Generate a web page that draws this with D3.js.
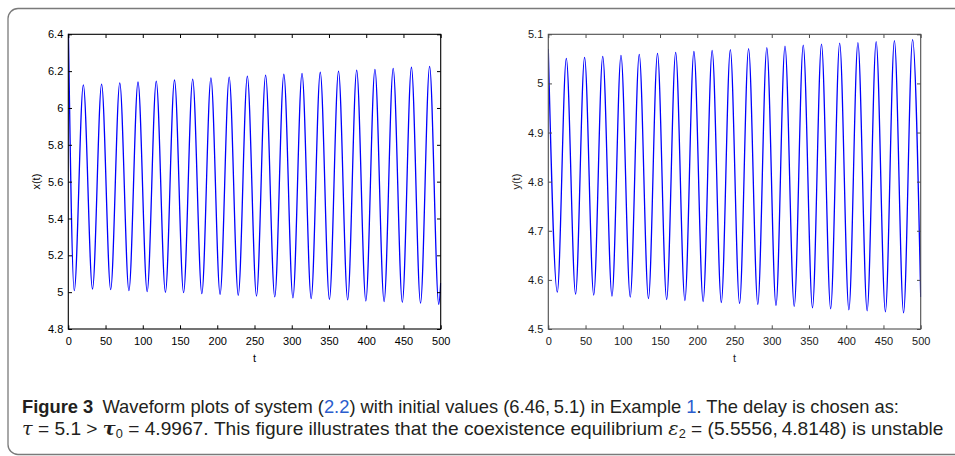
<!DOCTYPE html>
<html>
<head>
<meta charset="utf-8">
<script src="https://cdn.jsdelivr.net/npm/d3@7"></script>
<style>
  body { margin: 0; background: #fff; }
  svg { display: block; }
  .tick text { font-family: "Liberation Sans", Arial, sans-serif; font-size: 11px; fill: #000; }
  .cap { font-family: "Liberation Sans", Arial, sans-serif; font-size: 18px; fill: #231f20; }
</style>
</head>
<body>
<div id="chart"></div>
<script>
// axis ticks
var tTicks = [0, 50, 100, 150, 200, 250, 300, 350, 400, 450, 500]
var xTicks = [4.8, 5, 5.2, 5.4, 5.6, 5.8, 6, 6.2, 6.4]
var yTicks = [4.5, 4.6, 4.7, 4.8, 4.9, 5, 5.1]

// x(t): start / end and extrema
var xStart = [0, 6.46]
var xEnd = [500, 5.05]
var xPeakT = [20.2, 44.7, 69.1, 93.6, 118.1, 142.6, 167.0, 191.5, 216.0, 240.4, 264.9, 289.4, 313.8, 338.3, 362.8, 387.2, 411.7, 436.2, 460.7, 485.1]
var xPeakV = [6.125, 6.13, 6.136, 6.141, 6.146, 6.152, 6.157, 6.163, 6.168, 6.173, 6.178, 6.183, 6.188, 6.194, 6.2, 6.205, 6.21, 6.215, 6.221, 6.226]
var xTroughT = [8.0, 32.5, 56.9, 81.4, 105.9, 130.4, 154.8, 179.3, 203.8, 228.2, 252.7, 277.2, 301.6, 326.1, 350.6, 375.1, 399.5, 424.0, 448.5, 472.9, 497.4]
var xTroughV = [5.008, 5.017, 5.014, 5.008, 5.003, 4.999, 4.997, 4.992, 4.988, 4.983, 4.979, 4.974, 4.969, 4.965, 4.961, 4.958, 4.952, 4.949, 4.945, 4.94, 4.934]

// y(t)
var yStart = [0, 5.07]
var yEnd = [500, 4.565]
var yPeakT = [24.2, 48.7, 73.1, 97.6, 122.1, 146.6, 171.0, 195.5, 220.0, 244.4, 268.9, 293.4, 317.8, 342.3, 366.8, 391.2, 415.7, 440.2, 464.7, 489.1]
var yPeakV = [5.051, 5.053, 5.055, 5.057, 5.059, 5.061, 5.063, 5.065, 5.067, 5.069, 5.071, 5.073, 5.076, 5.078, 5.08, 5.082, 5.083, 5.085, 5.087, 5.089]
var yTroughT = [12.1, 36.6, 61.0, 85.5, 110.0, 134.5, 158.9, 183.4, 207.9, 232.3, 256.8, 281.3, 305.7, 330.2, 354.7, 379.1, 403.6, 428.1, 452.6, 477.0]
var yTroughV = [4.575, 4.571, 4.569, 4.567, 4.565, 4.562, 4.56, 4.558, 4.556, 4.554, 4.552, 4.55, 4.548, 4.546, 4.543, 4.541, 4.539, 4.537, 4.535, 4.533]

function points (start, end, pt, pv, tt, tv) {
  var pts = [start, end]
  pt.forEach(function (t, i) { pts.push([t, pv[i]]) })
  tt.forEach(function (t, i) { pts.push([t, tv[i]]) })
  return pts.sort(function (a, b) { return a[0] - b[0] })
}

var svg = d3.select('#chart').append('svg')
  .attr('width', 955)
  .attr('height', 456)

// figure frame
svg.append('rect')
  .attr('x', 8).attr('y', 8.5)
  .attr('width', 1000).attr('height', 446)
  .attr('rx', 10)
  .attr('fill', 'none')
  .attr('stroke', '#7a7a7a')
  .attr('stroke-width', 1.3)

function panel (id, left, right, domain, ticks, label, axisColor, textColor, data) {
  var top = 34.3
  var bottom = 329
  var tk = 3.7
  var x = d3.scaleLinear().domain([0, 500]).range([left, right])
  var y = d3.scaleLinear().domain(domain).range([bottom, top])
  var fmt = function (d) { return String(d) }

  var g = svg.append('g')

  g.append('clipPath').attr('id', id)
    .append('rect')
    .attr('x', left).attr('y', top - 0.5)
    .attr('width', right - left + 0.5).attr('height', bottom - top + 1)

  var line = d3.line()
    .x(function (d) { return x(d[0]) })
    .y(function (d) { return y(d[1]) })
    .curve(d3.curveMonotoneX)

  g.append('path')
    .datum(data)
    .attr('clip-path', 'url(#' + id + ')')
    .attr('d', line)
    .attr('fill', 'none')
    .attr('stroke', '#0000ff')
    .attr('stroke-width', 1.3)

  var axB = g.append('g').attr('transform', 'translate(0,' + bottom + ')')
    .call(d3.axisBottom(x).tickValues(tTicks).tickSize(-tk).tickPadding(8).tickFormat(fmt))
  var axT = g.append('g').attr('transform', 'translate(0,' + top + ')')
    .call(d3.axisTop(x).tickValues(tTicks).tickSize(-tk).tickFormat(''))
  var axL = g.append('g').attr('transform', 'translate(' + left + ',0)')
    .call(d3.axisLeft(y).tickValues(ticks).tickSize(-tk).tickPadding(5).tickFormat(fmt))
  var axR = g.append('g').attr('transform', 'translate(' + right + ',0)')
    .call(d3.axisRight(y).tickValues(ticks).tickSize(-tk).tickFormat(''))

  ;[axB, axT, axL, axR].forEach(function (a) {
    a.select('.domain').remove()
    a.selectAll('.tick line').attr('stroke', axisColor)
    a.selectAll('.tick text').style('fill', textColor)
  })

  g.append('rect')
    .attr('x', left).attr('y', top)
    .attr('width', right - left).attr('height', bottom - top)
    .attr('fill', 'none')
    .attr('stroke', axisColor)
    .attr('stroke-width', 1.1)

  g.append('text')
    .attr('transform', 'translate(' + (left - 28) + ',' + ((top + bottom) / 2) + ') rotate(-90)')
    .attr('text-anchor', 'middle')
    .attr('fill', textColor)
    .style('font-family', '"Liberation Sans", Arial, sans-serif')
    .style('font-size', '11px')
    .text(label)

  g.append('text')
    .attr('x', (left + right) / 2)
    .attr('y', 362)
    .attr('text-anchor', 'middle')
    .attr('fill', textColor)
    .style('font-family', '"Liberation Sans", Arial, sans-serif')
    .style('font-size', '11px')
    .text('t')
}

panel('clipx', 68.3, 440.7, [4.8, 6.4], xTicks, 'x(t)', '#000', '#000',
  points(xStart, xEnd, xPeakT, xPeakV, xTroughT, xTroughV))
panel('clipy', 548.3, 920.7, [4.5, 5.1], yTicks, 'y(t)', '#4d4d4d', '#1a1a1a',
  points(yStart, yEnd, yPeakT, yPeakV, yTroughT, yTroughV))

// caption: condensed by a horizontal scale so the lines end where the reference's do
function squeeze (sel, x, y, width) {
  var w = sel.node().getComputedTextLength()
  sel.attr('transform', 'translate(' + x + ',' + y + ') scale(' + (width / w) + ',1)')
}

var link = '#2b5dcd'
var c1 = svg.append('text').attr('class', 'cap')
c1.append('tspan').style('font-weight', 'bold').text('Figure 3')
c1.append('tspan').text('\u2002Waveform plots of system (')
c1.append('tspan').attr('fill', link).text('2.2')
c1.append('tspan').text(') with initial values (6.46,\u20095.1) in Example ')
c1.append('tspan').attr('fill', link).text('1')
c1.append('tspan').text('. The delay is chosen as:')
squeeze(c1, 22, 413, 878)

var c2 = svg.append('text').attr('class', 'cap')
c2.append('tspan').style('font-style', 'italic').style('font-family', '"DejaVu Serif", serif').text('\u03c4')
c2.append('tspan').text(' = 5.1 > ')
c2.append('tspan').style('font-style', 'italic').style('font-weight', 'bold').style('font-family', '"DejaVu Serif", serif').text('\u03c4')
c2.append('tspan').attr('dy', 3).style('font-size', '12px').text('0')
c2.append('tspan').attr('dy', -3).text(' = 4.9967. This figure illustrates that the coexistence equilibrium ')
c2.append('tspan').style('font-style', 'italic').style('font-family', '"DejaVu Serif", serif').text('\u03b5')
c2.append('tspan').attr('dy', 3).style('font-size', '12px').text('2')
c2.append('tspan').attr('dy', -3).text(' = (5.5556,\u20094.8148) is unstable')
squeeze(c2, 22, 435, 922)
</script>
</body>
</html>
